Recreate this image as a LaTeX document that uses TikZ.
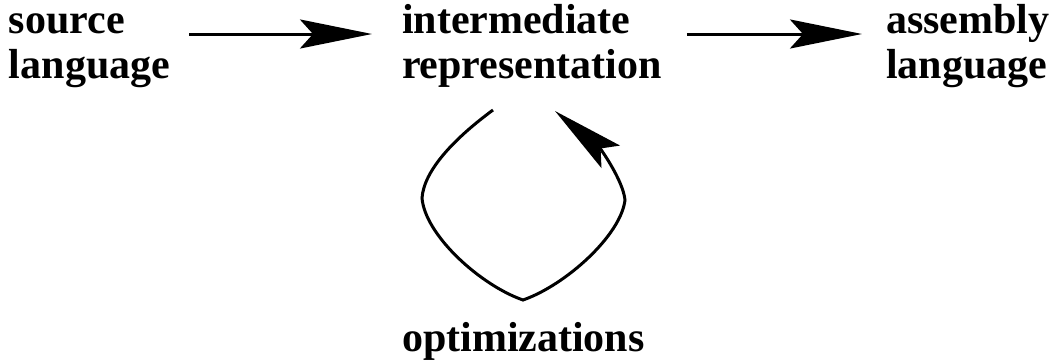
\documentclass[tikz,border=0pt]{standalone}
\usepackage{fontspec}
\setmainfont{Liberation Serif}
\usetikzlibrary{arrows.meta,calc}
\begin{document}
\begin{tikzpicture}[x=1pt,y=-1pt,
  lbl/.style={anchor=base west,inner sep=0pt,outer sep=0pt,align=left,
    font=\fontsize{42}{45}\selectfont\bfseries},
  conn/.style={line width=3pt},
  arr/.style={conn,-{Stealth[length=72pt,width=29pt,inset=13pt]}}]
\useasboundingbox (0,0) rectangle (1055,362);
\node[lbl] (src) at (9,78) {source\\language};
\node[lbl] (ir)  at (402,78) {intermediate\\representation};
\node[lbl] (asm) at (886,78) {assembly\\language};
\node[lbl] (opt) at (402,351) {optimizations};
\draw[arr] ($(src.base east)+(19,-44)$) -- ($(ir.base west)+(-30,-44)$);
\draw[arr] ($(ir.base east)+(25,-44)$) -- ($(asm.base west)+(-24,-44)$);
\draw[arr] ($(ir.base west)+(91,32)$) .. controls (455,138) and (424,170) .. (422,198)
  .. controls (425,235) and (480,285) .. (523,300)
  .. controls (566,285) and (621,235) .. (625,200)
  .. controls (623,180) and (600,148) .. ($(ir.base west)+(153,33)$);
\end{tikzpicture}
\end{document}
